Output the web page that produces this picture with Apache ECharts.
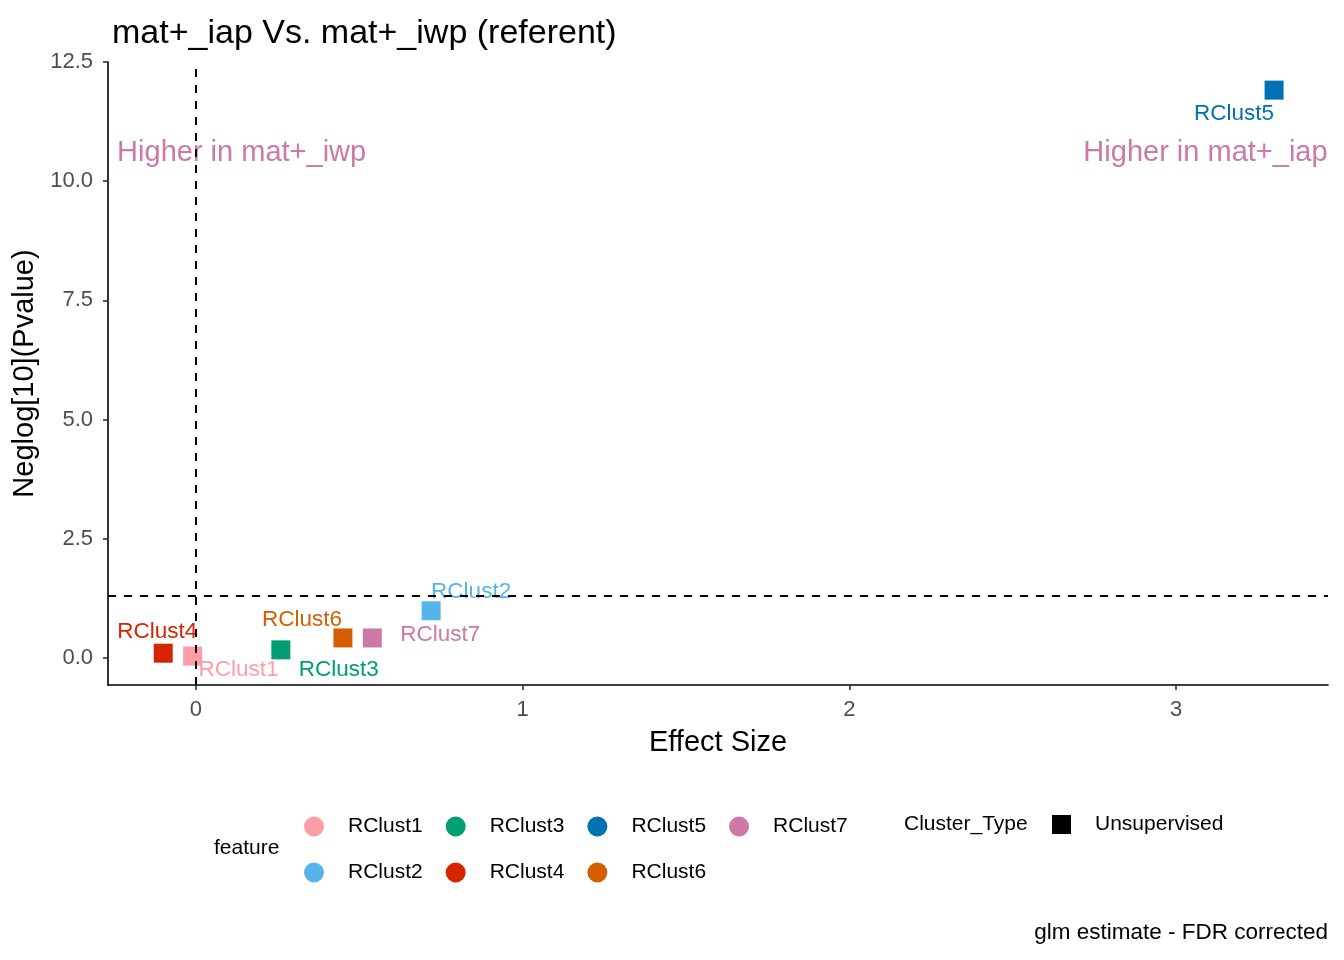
<!DOCTYPE html>
<html>
<head>
<meta charset="utf-8">
<script src="https://cdn.jsdelivr.net/npm/echarts@6/dist/echarts.min.js"></script>
<style>
  html,body{margin:0;padding:0;background:#fff;}
  #chart{width:1344px;height:960px;}
</style>
</head>
<body>
<div id="chart"></div>
<script>
// data
var features = ['RClust1','RClust2','RClust3','RClust4','RClust5','RClust6','RClust7'];
var effectSize = [-0.01, 0.72, 0.26, -0.10, 3.30, 0.45, 0.54];
var negLogP = [0.04, 0.99, 0.17, 0.10, 11.91, 0.42, 0.42];
var featureColors = ['#FF9DA7','#56B4E9','#009E73','#D62300','#0072B2','#D55E00','#CC79A7'];
var xTicks = [0, 1, 2, 3];
var yTicks = [0, 2.5, 5, 7.5, 10, 12.5];
var pCutoff = 1.301; // -log10(0.05)
var annotations = [
    {text:'Higher in mat+_iwp', x:0.14, y:10.6},
    {text:'Higher in mat+_iap', x:3.09, y:10.6}
];
// ggrepel-ish label shifts (pixels), per feature
var labelShift = [[46,14],[40,-19],[58,20],[-6,-21],[-40,24],[-41,-18],[68,-3]];

var FONT = 'Liberation Sans, Arial, sans-serif';

var series = features.map(function(name,i){
    return {
        name:name,
        type:'scatter',
        symbol:'rect',
        symbolSize:19,
        itemStyle:{color:featureColors[i],opacity:1},
        data:[[effectSize[i], negLogP[i]]],
        label:{
            show:true,
            formatter:name,
            position:'inside',
            offset:labelShift[i],
            color:featureColors[i],
            fontSize:22.5,
            fontFamily:FONT
        },
        z:3
    };
});

// reference lines
series.push({
    name:'lines',
    type:'scatter',
    data:[],
    silent:true,
    markLine:{
        symbol:['none','none'],
        silent:true,
        label:{show:false},
        lineStyle:{color:'#000',type:[8,8],width:2},
        data:[{xAxis:0},{yAxis:pCutoff}]
    }
});

// side annotations
series.push({
    name:'annot',
    type:'scatter',
    symbolSize:0,
    silent:true,
    itemStyle:{opacity:1},
    data:annotations.map(function(a){ return {value:[a.x,a.y], name:a.text}; }),
    label:{
        show:true,
        position:'inside',
        formatter:function(p){ return p.name; },
        color:'#CC79A7',
        fontSize:29,
        fontFamily:FONT
    }
});

var chart = echarts.init(document.getElementById('chart'));
var legendBase = {
    orient:'horizontal',
    left:299,
    itemWidth:20,
    itemHeight:20,
    itemGap:23,
    icon:'circle',
    selectedMode:false,
    textStyle:{fontSize:21,color:'#000',fontFamily:FONT,padding:[0,0,0,19],width:80}
};
var option = {
    backgroundColor:'#fff',
    animation:false,
    title:{
        text:'mat+_iap Vs. mat+_iwp (referent)',
        left:107,
        top:12,
        textStyle:{fontSize:34,fontWeight:'normal',color:'#000',fontFamily:FONT}
    },
    legend:[
        Object.assign({}, legendBase, {top:811, data:['RClust1','RClust3','RClust5','RClust7']}),
        Object.assign({}, legendBase, {top:857, data:['RClust2','RClust4','RClust6']})
    ],
    grid:{left:108,right:16,top:62,bottom:275,containLabel:false},
    xAxis:{
        type:'value',
        min:-0.269,
        max:3.465,
        name:'Effect Size',
        nameLocation:'middle',
        nameGap:43,
        nameTextStyle:{fontSize:29,color:'#000',fontFamily:FONT},
        splitLine:{show:false},
        axisLine:{show:true,onZero:false,lineStyle:{color:'#000',width:1.6}},
        axisTick:{show:true,customValues:xTicks,length:5,lineStyle:{color:'#333',width:1.6}},
        axisLabel:{customValues:xTicks,fontSize:22,color:'#4d4d4d',fontFamily:FONT,margin:14}
    },
    yAxis:{
        type:'value',
        min:-0.567,
        max:12.5,
        name:'Neglog[10](Pvalue)',
        nameLocation:'middle',
        nameGap:66,
        nameRotate:90,
        nameTextStyle:{fontSize:29,color:'#000',fontFamily:FONT},
        splitLine:{show:false},
        axisLine:{show:true,onZero:false,lineStyle:{color:'#000',width:1.6}},
        axisTick:{show:true,customValues:yTicks,length:5,lineStyle:{color:'#333',width:1.6}},
        axisLabel:{
            customValues:yTicks,
            fontSize:22,color:'#4d4d4d',fontFamily:FONT,margin:15,
            formatter:function(v){ return v.toFixed(1); }
        }
    },
    graphic:[
        {type:'text',left:214,top:838,style:{text:'feature',fontSize:21,fill:'#000',fontFamily:FONT}},
        {type:'text',left:904,top:814,style:{text:'Cluster_Type',fontSize:21,fill:'#000',fontFamily:FONT}},
        {type:'rect',left:1052,top:815,shape:{width:19,height:19},style:{fill:'#000'}},
        {type:'text',left:1095,top:814,style:{text:'Unsupervised',fontSize:21,fill:'#000',fontFamily:FONT}},
        {type:'text',right:16,top:921,style:{text:'glm estimate - FDR corrected',fontSize:22.5,fill:'#000',fontFamily:FONT}}
    ],
    series:series
};
chart.setOption(option);
</script>
</body>
</html>
